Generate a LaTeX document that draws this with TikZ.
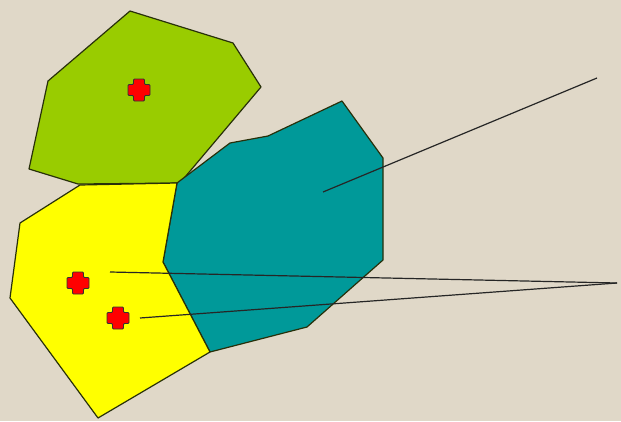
\documentclass[tikz,border=0pt]{standalone}
\usepackage{tikz}
\definecolor{linen}{RGB}{224,216,200}
\definecolor{leaf}{RGB}{153,204,0}
\definecolor{sea}{RGB}{0,153,153}
\definecolor{lemon}{RGB}{255,255,0}
\definecolor{edge}{RGB}{40,48,10}
\tikzset{
  cell/.style={draw=edge, line width=1.2pt, line join=round},
  site/.pic={\draw[fill=red, draw=black!80, line width=0.9pt, rounded corners=1pt]
    (-5.5,-11) -- (5.5,-11) -- (5.5,-5.5) -- (11,-5.5) -- (11,5.5) -- (5.5,5.5) -- (5.5,11)
    -- (-5.5,11) -- (-5.5,5.5) -- (-11,5.5) -- (-11,-5.5) -- (-5.5,-5.5) -- cycle;},
  ray/.style={draw=black!85, line width=1.2pt}
}
\begin{document}
\begin{tikzpicture}[x=1pt,y=-1pt]
\fill[linen] (0,0) rectangle (621,421);
\useasboundingbox (0,0) rectangle (621,421);
% cells
\filldraw[cell, fill=leaf] (130,11) -- (233,43) -- (261,87) -- (180,183) -- (78,184) -- (29,169) -- (48,81) -- cycle;
\filldraw[cell, fill=sea] (177,183) -- (230,143) -- (268,136) -- (342,101) -- (383,158) -- (383,260) -- (307,327) -- (210,352) -- (163,262) -- cycle;
\filldraw[cell, fill=lemon] (80,185) -- (177,183) -- (163,262) -- (210,352) -- (98,418) -- (10,298) -- (20,223) -- cycle;
% sites
\pic at (139,90) {site};
\pic at (78,283) {site};
\pic at (118,318) {site};
% rays
\coordinate (tealin) at (323,192);
\coordinate (tealout) at (597,78);
\coordinate (upin) at (110,272);
\coordinate (lowin) at (140,318);
\coordinate (tip) at (617,283);
\draw[ray] (tealin) -- (tealout);
\draw[ray] (upin) -- (tip);
\draw[ray] (lowin) -- (tip);
\end{tikzpicture}
\end{document}
